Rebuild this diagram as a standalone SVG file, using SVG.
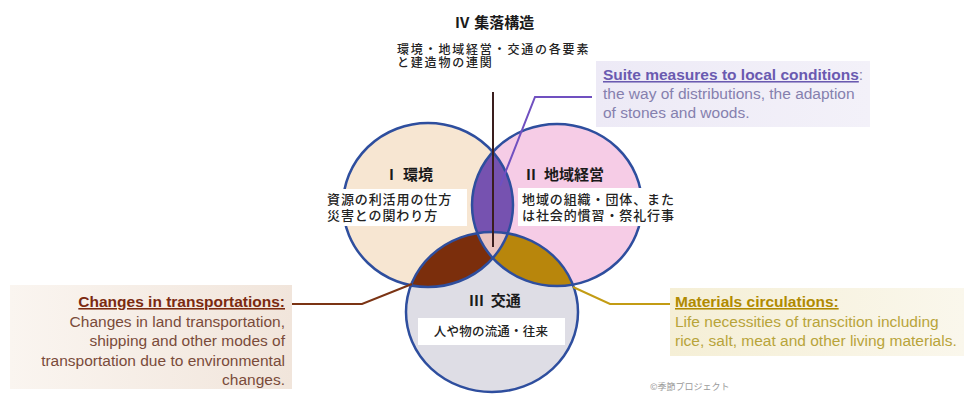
<svg xmlns="http://www.w3.org/2000/svg" width="964" height="394" viewBox="0 0 964 394">
  <style>
    .jp { font-family: "Noto Sans CJK JP", "Noto Sans", sans-serif; fill: #222; }
    .jpt { font-family: "Noto Sans CJK JP", "Noto Sans", sans-serif; font-weight: 700; font-size: 15px; fill: #1a1a1a; }
    .jpb { font-size: 13px; font-weight: 500; letter-spacing: 0.9px; }
    .en { font-family: "Liberation Sans", Arial, sans-serif; font-size: 15.5px; }
    .ttl { font-weight: 700; text-decoration: underline; }
    .ring { fill: none; stroke: #2E4E9E; stroke-width: 2.5; }
    .wbox { fill: #FFFFFF; }
    .conn { fill: none; stroke-width: 2; stroke-linejoin: miter; }
  </style>
  <defs>
    <clipPath id="clipI"><ellipse cx="428" cy="205" rx="85" ry="82"/></clipPath>
    <clipPath id="clipII"><ellipse cx="557" cy="205" rx="85" ry="81"/></clipPath>
    <linearGradient id="gBrown" x1="0" y1="0" x2="1" y2="0">
      <stop offset="0" stop-color="#FAF5F0"/>
      <stop offset="1" stop-color="#F1E5DB"/>
    </linearGradient>
    <linearGradient id="gGold" x1="0" y1="0" x2="1" y2="0">
      <stop offset="0" stop-color="#F5EFD6"/>
      <stop offset="1" stop-color="#FAF7EC"/>
    </linearGradient>
    <linearGradient id="gPurple" x1="0" y1="0" x2="1" y2="0">
      <stop offset="0" stop-color="#EDEAF6"/>
      <stop offset="1" stop-color="#F3F1F9"/>
    </linearGradient>
  </defs>

  <rect x="0" y="0" width="964" height="394" fill="#FFFFFF"/>

  <!-- Venn fills -->
  <g id="venn-fills">
    <ellipse cx="428" cy="205" rx="85" ry="82" fill="#F7E6D2"/>
    <ellipse cx="557" cy="205" rx="85" ry="81" fill="#F6CCE6"/>
    <ellipse cx="492" cy="312" rx="86" ry="80" fill="#DEDDE5"/>
    <g clip-path="url(#clipI)">
      <ellipse cx="557" cy="205" rx="85" ry="81" fill="#7652B0"/>
      <ellipse cx="492" cy="312" rx="86" ry="80" fill="#7B2E0C"/>
    </g>
    <g clip-path="url(#clipII)">
      <ellipse cx="492" cy="312" rx="86" ry="80" fill="#B8860C"/>
    </g>
    <g clip-path="url(#clipI)">
      <g clip-path="url(#clipII)">
        <ellipse cx="492" cy="312" rx="86" ry="80" fill="#E9C3C0"/>
      </g>
    </g>
    <ellipse class="ring" cx="428" cy="205" rx="85" ry="82"/>
    <ellipse class="ring" cx="557" cy="205" rx="85" ry="81"/>
    <ellipse class="ring" cx="492" cy="312" rx="86" ry="80"/>
  </g>

  <!-- Connectors -->
  <g id="connectors">
    <line x1="493" y1="92" x2="493" y2="247" stroke="#3A1E1E" stroke-width="2"/>
    <polyline class="conn" points="592,97 535,97 500,186" stroke="#7050C0" stroke-width="1.6"/>
    <polyline class="conn" points="412,284 362,304 290,304" stroke="#7B3414"/>
    <polyline class="conn" points="573,287 610,304 670,304" stroke="#C39C14"/>
  </g>

  <!-- IV -->
  <g id="node-IV">
    <text class="jpt" x="455" y="28">IV<tspan dx="5">集落構造</tspan></text>
    <text class="jp" x="397" y="54" font-size="12" font-weight="500" letter-spacing="1.8">環境・地域経営・交通の各要素<tspan x="397" dy="13">と建造物の連関</tspan></text>
  </g>

  <!-- I -->
  <g id="node-I">
    <text class="jpt" x="389" y="180">I<tspan dx="9">環境</tspan></text>
    <rect class="wbox" x="322" y="189" width="145" height="37"/>
    <text class="jp jpb" x="327" y="204">資源の利活用の仕方<tspan x="327" dy="16">災害との関わり方</tspan></text>
  </g>

  <!-- II -->
  <g id="node-II">
    <text class="jpt" x="526" y="180">II<tspan dx="8">地域経営</tspan></text>
    <rect class="wbox" x="518" y="188" width="154" height="38"/>
    <text class="jp jpb" x="522" y="204">地域の組織・団体、また<tspan x="522" dy="16">は社会的慣習・祭礼行事</tspan></text>
  </g>

  <!-- III -->
  <g id="node-III">
    <text class="jpt" x="469" y="306">III<tspan dx="7">交通</tspan></text>
    <rect class="wbox" x="418" y="318" width="147" height="27"/>
    <text class="jp" x="491" y="336" font-size="12.5" font-weight="500" letter-spacing="0.2" text-anchor="middle">人や物の流通・往来</text>
  </g>

  <!-- Suite measures note -->
  <g id="note-suite">
    <rect x="596" y="61" width="274" height="66" fill="url(#gPurple)"/>
    <text class="en" x="603" y="80"><tspan class="ttl" fill="#6A5AB0">Suite measures to local conditions</tspan><tspan fill="#8A84AE">:</tspan></text>
    <text class="en" x="603" y="99" fill="#8580AE">the way of distributions, the adaption</text>
    <text class="en" x="603" y="118" fill="#8580AE">of stones and woods.</text>
  </g>

  <!-- Changes in transportations note -->
  <g id="note-transport">
    <rect x="10" y="285" width="282" height="104" fill="url(#gBrown)"/>
    <text class="en ttl" x="285" y="307" text-anchor="end" fill="#7B2A10">Changes in transportations:</text>
    <text class="en" x="285" y="326.5" text-anchor="end" fill="#7A4B3A">Changes in land transportation,</text>
    <text class="en" x="285" y="346" text-anchor="end" fill="#7A4B3A">shipping and other modes of</text>
    <text class="en" x="285" y="365.5" text-anchor="end" fill="#7A4B3A">transportation due to environmental</text>
    <text class="en" x="285" y="385" text-anchor="end" fill="#7A4B3A">changes.</text>
  </g>

  <!-- Materials circulations note -->
  <g id="note-materials">
    <rect x="670" y="288" width="294" height="68" fill="url(#gGold)"/>
    <text class="en ttl" x="675" y="307" fill="#B08A00">Materials circulations:</text>
    <text class="en" x="675" y="327" fill="#B8A43A">Life necessities of  transcition including</text>
    <text class="en" x="675" y="346" fill="#B8A43A">rice, salt, meat and other living materials.</text>
  </g>

  <!-- footer -->
  <g id="footer">
    <text class="jp" x="650" y="390" font-size="9" style="fill:#9A9A9A">©季節プロジェクト</text>
  </g>
</svg>
